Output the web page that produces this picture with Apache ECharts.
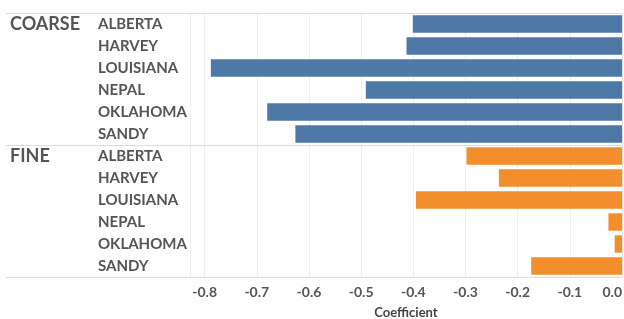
<!DOCTYPE html>
<html>
<head>
<meta charset="utf-8">
<script src="https://cdn.jsdelivr.net/npm/echarts@6/dist/echarts.min.js"></script>
<style>
  html, body { margin: 0; padding: 0; background: #fff; }
  #chart { width: 624px; height: 319px; }
</style>
</head>
<body>
<div id="chart"></div>
<script>
// groups and regions
let groups = ['COARSE', 'FINE']
let regions = ['ALBERTA', 'HARVEY', 'LOUISIANA', 'NEPAL', 'OKLAHOMA', 'SANDY']
// coefficient values
let coarse = [-0.401, -0.413, -0.788, -0.491, -0.680, -0.626]
let fine = [-0.298, -0.236, -0.395, -0.026, -0.014, -0.174]
let xTicks = [-0.8, -0.7, -0.6, -0.5, -0.4, -0.3, -0.2, -0.1, 0.0]

// one row per group/region pair
let rows = []
let groupLabels = []
groups.forEach((g) => {
    regions.forEach((r, i) => {
        rows.push(g + '|' + r)
        groupLabels.push(i === 0 ? g : '')
    })
})
let blank = regions.map(() => '-')

let labelFont = {
    fontFamily: 'Lato',
    fontWeight: 'bold',
    color: '#555'
}

let myChart = echarts.init(document.getElementById('chart'))
let option = {
    animation: false,
    grid: {
        left: 190,
        right: 2,
        top: 13,
        bottom: 42,
        outerBoundsMode: 'none',
        containLabel: false
    },
    xAxis: {
        type: 'value',
        min: -0.828,
        max: 0,
        splitNumber: 8,
        name: 'Coefficient',
        nameLocation: 'middle',
        nameGap: 29,
        nameTextStyle: Object.assign({fontSize: 13}, labelFont, {color: '#444'}),
        axisLine: {show: false},
        axisTick: {show: false},
        splitLine: {lineStyle: {color: '#efefef', width: 1}},
        axisLabel: Object.assign({
            fontSize: 14,
            margin: 8,
            showMinLabel: false,
            alignMaxLabel: 'right',
            formatter: (v) => {
                let hit = xTicks.find((t) => Math.abs(t - v) < 1e-6)
                return hit === undefined ? '' : hit.toFixed(1)
            }
        }, labelFont)
    },
    yAxis: [
        {
            type: 'category',
            data: rows,
            inverse: true,
            axisLine: {lineStyle: {color: '#e2e2e2'}},
            axisTick: {show: false},
            axisLabel: Object.assign({
                fontSize: 15,
                align: 'left',
                margin: 92,
                formatter: (v) => v.split('|')[1]
            }, labelFont)
        },
        {
            type: 'category',
            data: groupLabels.map((g, i) => g + '#' + i),
            inverse: true,
            position: 'left',
            axisLine: {show: false},
            axisTick: {show: false},
            axisLabel: Object.assign({
                fontSize: 18,
                align: 'left',
                margin: 180,
                formatter: (v) => v.split('#')[0]
            }, labelFont)
        }
    ],
    series: [
        {
            name: 'COARSE',
            type: 'bar',
            stack: 'g',
            barCategoryGap: '21%',
            itemStyle: {color: '#4e79a7'},
            data: coarse.concat(blank)
        },
        {
            name: 'FINE',
            type: 'bar',
            stack: 'g',
            barCategoryGap: '21%',
            itemStyle: {color: '#f28e2b'},
            data: blank.concat(fine)
        }
    ]
}
myChart.setOption(option)

// horizontal dividers that run under the labels too
let c0 = myChart.convertToPixel({yAxisIndex: 0}, 0)
let c1 = myChart.convertToPixel({yAxisIndex: 0}, 1)
let band = c1 - c0
let xRight = myChart.convertToPixel({xAxisIndex: 0}, 0)
let lines = []
for (let k = 0; k <= groups.length; k++) {
    let y = Math.round(c0 - band / 2 + k * regions.length * band) + 0.5
    lines.push({
        type: 'line',
        shape: {x1: 6, y1: y, x2: xRight, y2: y},
        style: {stroke: '#dcdcdc', lineWidth: 1},
        z: 10
    })
}
myChart.setOption({graphic: lines})
</script>
</body>
</html>
